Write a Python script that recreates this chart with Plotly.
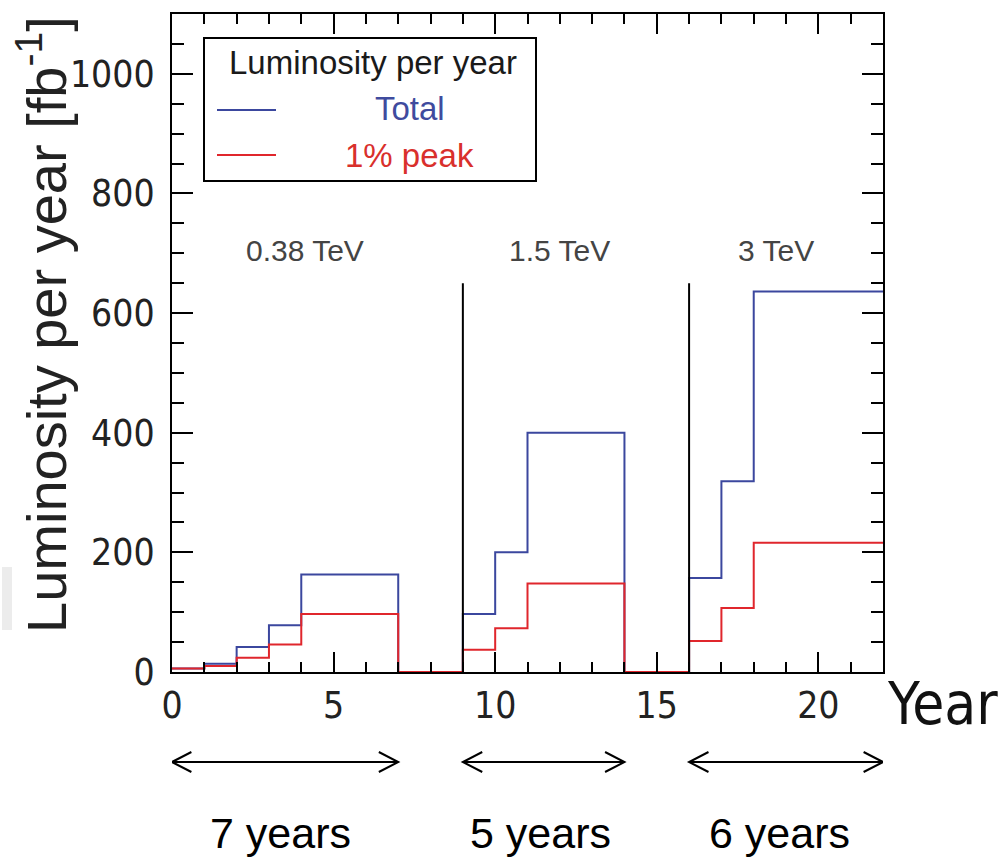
import plotly.graph_objects as go

# Run schedule: year boundaries of each constant-luminosity period
year_edges = [0, 1, 2, 3, 4, 7, 9, 10, 11, 14, 16, 17, 18, 22]
# Integrated luminosity per year in fb^-1 for each period
lumi_total = [6, 14, 42, 78, 163, 0, 97, 200, 400, 0, 157, 319, 636]
lumi_peak = [6, 10, 24, 46, 97, 0, 37, 73, 148, 0, 52, 107, 216]

# Energy stages
stage_labels = ["0.38 TeV", "1.5 TeV", "3 TeV"]
stage_label_x = [4.1, 12.0, 18.7]
stage_starts = [0, 9, 16]
stage_ends = [7, 14, 22]
stage_durations = ["7 years", "5 years", "6 years"]
stage_duration_x = [3.35, 11.4, 18.8]
stage_divider_top = 650
stage_label_y = 705

BLUE = "#3b479e"
RED = "#e0262c"
NUM_FONT = "DejaVu Sans Condensed, Liberation Sans, sans-serif"
TXT_FONT = "Liberation Sans, Arial, sans-serif"

W, H = 1003, 859
ML, MR, MT, MB = 172, 120, 14, 187
PW, PH = W - ML - MR, H - MT - MB


def px(xp):
    return (xp - ML) / PW


def py(yp):
    return (H - MB - yp) / PH


def label(x, y, text, size, color, family=TXT_FONT, xref="paper", yref="paper", **kw):
    return dict(x=x, y=y, xref=xref, yref=yref, text=text, showarrow=False,
                xanchor="center", yanchor="middle",
                font=dict(family=family, size=size, color=color), **kw)


fig = go.Figure()

fig.add_trace(go.Scatter(
    x=year_edges, y=lumi_total + [lumi_total[-1]], mode="lines",
    line=dict(color=BLUE, width=2, shape="hv"), showlegend=False, name="Total"))
fig.add_trace(go.Scatter(
    x=year_edges, y=lumi_peak + [lumi_peak[-1]], mode="lines",
    line=dict(color=RED, width=2, shape="hv"), showlegend=False, name="1% peak"))

# Stage dividers
for xs in stage_starts[1:]:
    fig.add_trace(go.Scatter(x=[xs, xs], y=[0, stage_divider_top], mode="lines",
                             line=dict(color="black", width=2), showlegend=False,
                             hoverinfo="skip"))

annotations = []
shapes = []

for lab, lx in zip(stage_labels, stage_label_x):
    annotations.append(label(lx, stage_label_y, lab, 30, "#444444", xref="x", yref="y"))

# Duration arrows and labels below the axis
arrow_y = py(762)
head_dx = 0.6
head_dy = 10 / PH
for x0, x1, lab, lx in zip(stage_starts, stage_ends, stage_durations, stage_duration_x):
    shapes.append(dict(type="line", xref="x", yref="paper", x0=x0, x1=x1, y0=arrow_y, y1=arrow_y,
                       line=dict(color="black", width=2)))
    shapes.append(dict(type="path", xref="x", yref="paper",
                       path=f"M {x0 + head_dx},{arrow_y + head_dy} L {x0},{arrow_y} L {x0 + head_dx},{arrow_y - head_dy}",
                       line=dict(color="black", width=2)))
    shapes.append(dict(type="path", xref="x", yref="paper",
                       path=f"M {x1 - head_dx},{arrow_y + head_dy} L {x1},{arrow_y} L {x1 - head_dx},{arrow_y - head_dy}",
                       line=dict(color="black", width=2)))
    annotations.append(label(lx, py(833), lab, 43, "black", xref="x"))

# Legend box
shapes.append(dict(type="rect", xref="paper", yref="paper", x0=px(204), x1=px(536),
                   y0=py(181), y1=py(38), line=dict(color="black", width=2), fillcolor="white",
                   layer="above"))
shapes.append(dict(type="line", xref="paper", yref="paper", x0=px(217), x1=px(276),
                   y0=py(110), y1=py(110), line=dict(color=BLUE, width=2), layer="above"))
shapes.append(dict(type="line", xref="paper", yref="paper", x0=px(217), x1=px(276),
                   y0=py(155), y1=py(155), line=dict(color=RED, width=2), layer="above"))
annotations.append(label(px(373), py(62), "Luminosity per year", 33, "#1a1a1a"))
annotations.append(label(px(410), py(108), "Total", 33, "#3f4b9e"))
annotations.append(label(px(409), py(155), "1% peak", 33, "#d9302c"))

# Axis titles
annotations.append(label(px(42), py(325), "Luminosity per year [fb<sup>-1</sup>]", 56, "#222222",
                         textangle=-90))
annotations.append(label(px(942), py(704), "Year", 58, "#111111", family=NUM_FONT))

# Faint grey strip at the far left
shapes.append(dict(type="rect", xref="paper", yref="paper", x0=px(2), x1=px(12),
                   y0=py(630), y1=py(567), line=dict(width=0), fillcolor="#ececec"))

axis_common = dict(showline=True, linecolor="black", linewidth=2, mirror="allticks",
                   ticks="inside", tickcolor="black", tickwidth=2, showgrid=False,
                   zeroline=False, tickfont=dict(family=NUM_FONT, size=37, color="#222222"))

fig.update_layout(
    width=W, height=H, margin=dict(l=ML, r=MR, t=MT, b=MB),
    paper_bgcolor="white", plot_bgcolor="white",
    xaxis=dict(range=[0, 22], tickvals=[0, 5, 10, 15, 20], ticklen=20,
               minor=dict(dtick=1, ticklen=10, ticks="inside", tickcolor="black", tickwidth=2,
                          showgrid=False),
               **axis_common),
    yaxis=dict(range=[0, 1100], tickvals=[0, 200, 400, 600, 800, 1000], ticklen=21,
               ticklabelstandoff=8,
               minor=dict(dtick=50, ticklen=12, ticks="inside", tickcolor="black", tickwidth=2,
                          showgrid=False),
               **axis_common),
    annotations=annotations, shapes=shapes, showlegend=False,
)

fig.write_html("out.html")
